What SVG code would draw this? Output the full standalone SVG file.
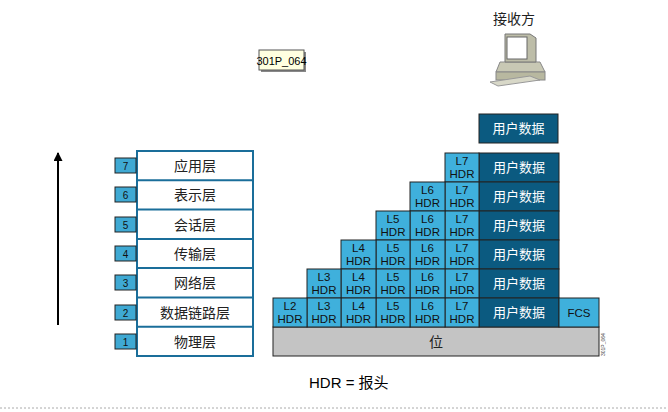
<svg xmlns="http://www.w3.org/2000/svg" width="668" height="412" viewBox="0 0 668 412">
<style>
text{font-family:"Liberation Sans","Noto Sans CJK SC",sans-serif;}
.l{fill:#fff;stroke:#1a6e9a;stroke-width:2}
.n{fill:#3fa9d3;stroke:#222;stroke-width:1}
.h{fill:#3fb0dc;stroke:#222;stroke-width:1}
.u{fill:#0b5a80;stroke:#222;stroke-width:1}
.lt{font-size:14px;fill:#222;text-anchor:middle}
.nt{font-size:10px;fill:#111;text-anchor:middle}
.ht{font-size:11.5px;fill:#111;text-anchor:middle}
.ut{font-size:13px;fill:#fff;text-anchor:middle}
</style>
<defs><marker id="ar" viewBox="0 0 10 10" refX="9" refY="5" markerWidth="10" markerHeight="9" orient="auto" markerUnits="userSpaceOnUse"><path d="M0,0 L10,5 L0,10 Z" fill="#000"/></marker></defs>
<g id="connectors"><line x1="58" y1="325" x2="58" y2="153" stroke="#000" stroke-width="2" marker-end="url(#ar)"/></g>
<line x1="0" y1="408" x2="668" y2="408" stroke="#aaa" stroke-dasharray="2,2"/>
<g id="tag"><rect x="261" y="52" width="45" height="20" fill="#888"/><rect x="259" y="50" width="45" height="20" fill="#ffffe0" stroke="#555"/><text x="281.5" y="64.5" font-size="11" text-anchor="middle" fill="#000">301P_064</text></g>
<g id="receiver"><text x="514" y="24" class="lt" font-size="14">接收方</text>
<path d="M500,62 L540,62 L545,72 L496,72 Z" fill="#c8c8b4" stroke="#888"/>
<rect x="496" y="72" width="49" height="8" fill="#b8b8a0" stroke="#888"/>
<path d="M505,34 L530,34 L536,38 L536,62 L505,62 Z" fill="#bdbda8" stroke="#777"/>
<rect x="507" y="37" width="20" height="22" fill="#fff" stroke="#666"/>
<path d="M490,82 L530,76 L540,80 L498,86 Z" fill="#d8d8c8" stroke="#999"/></g>
<g id="layers">
<rect class="l" x="137" y="151" width="116" height="205"/>
<g stroke="#1a6e9a" stroke-width="2"><line x1="137" y1="180.3" x2="253" y2="180.3"/><line x1="137" y1="209.6" x2="253" y2="209.6"/><line x1="137" y1="238.9" x2="253" y2="238.9"/><line x1="137" y1="268.1" x2="253" y2="268.1"/><line x1="137" y1="297.4" x2="253" y2="297.4"/><line x1="137" y1="326.7" x2="253" y2="326.7"/></g>
<text class="lt" x="195" y="171">应用层</text><text class="lt" x="195" y="200">表示层</text><text class="lt" x="195" y="230">会话层</text><text class="lt" x="195" y="259">传输层</text><text class="lt" x="195" y="288">网络层</text><text class="lt" x="195" y="318">数据链路层</text><text class="lt" x="195" y="347">物理层</text>
<rect class="n" x="115" y="158" width="21" height="15"/><text class="nt" x="125.5" y="169.5">7</text>
<rect class="n" x="115" y="187" width="21" height="15"/><text class="nt" x="125.5" y="198.5">6</text>
<rect class="n" x="115" y="217" width="21" height="15"/><text class="nt" x="125.5" y="228.5">5</text>
<rect class="n" x="115" y="246" width="21" height="15"/><text class="nt" x="125.5" y="257.5">4</text>
<rect class="n" x="115" y="275" width="21" height="15"/><text class="nt" x="125.5" y="286.5">3</text>
<rect class="n" x="115" y="305" width="21" height="15"/><text class="nt" x="125.5" y="316.5">2</text>
<rect class="n" x="115" y="334" width="21" height="15"/><text class="nt" x="125.5" y="345.5">1</text>
</g>
<g id="bits"><rect x="273" y="327" width="326" height="29" fill="#c4c4c4" stroke="#222"/><text class="lt" x="436" y="347">位</text></g>
<g id="userdata-top"><rect class="u" x="479" y="114" width="79" height="29"/><text class="ut" x="518.5" y="133">用户数据</text></g>
<g id="stack">
<rect class="u" x="479" y="153" width="80" height="29"/><text class="ut" x="519" y="172">用户数据</text>
<rect class="u" x="479" y="182" width="80" height="29"/><text class="ut" x="519" y="201">用户数据</text>
<rect class="u" x="479" y="211" width="80" height="29"/><text class="ut" x="519" y="230">用户数据</text>
<rect class="u" x="479" y="240" width="80" height="29"/><text class="ut" x="519" y="259">用户数据</text>
<rect class="u" x="479" y="269" width="80" height="29"/><text class="ut" x="519" y="288">用户数据</text>
<rect class="u" x="479" y="298" width="80" height="29"/><text class="ut" x="519" y="317">用户数据</text>
<rect class="h" x="559" y="298" width="40" height="29"/><text class="ht" x="579" y="317">FCS</text>
<g id="hdr">
<rect class="h" x="445" y="153" width="34" height="29"/><text class="ht" x="462" y="165">L7</text><text class="ht" x="462" y="178">HDR</text>
<rect class="h" x="445" y="182" width="34" height="29"/><text class="ht" x="462" y="194">L7</text><text class="ht" x="462" y="207">HDR</text>
<rect class="h" x="445" y="211" width="34" height="29"/><text class="ht" x="462" y="223">L7</text><text class="ht" x="462" y="236">HDR</text>
<rect class="h" x="445" y="240" width="34" height="29"/><text class="ht" x="462" y="252">L7</text><text class="ht" x="462" y="265">HDR</text>
<rect class="h" x="445" y="269" width="34" height="29"/><text class="ht" x="462" y="281">L7</text><text class="ht" x="462" y="294">HDR</text>
<rect class="h" x="445" y="298" width="34" height="29"/><text class="ht" x="462" y="310">L7</text><text class="ht" x="462" y="323">HDR</text>
<rect class="h" x="410" y="182" width="35" height="29"/><text class="ht" x="427.5" y="194">L6</text><text class="ht" x="427.5" y="207">HDR</text>
<rect class="h" x="410" y="211" width="35" height="29"/><text class="ht" x="427.5" y="223">L6</text><text class="ht" x="427.5" y="236">HDR</text>
<rect class="h" x="410" y="240" width="35" height="29"/><text class="ht" x="427.5" y="252">L6</text><text class="ht" x="427.5" y="265">HDR</text>
<rect class="h" x="410" y="269" width="35" height="29"/><text class="ht" x="427.5" y="281">L6</text><text class="ht" x="427.5" y="294">HDR</text>
<rect class="h" x="410" y="298" width="35" height="29"/><text class="ht" x="427.5" y="310">L6</text><text class="ht" x="427.5" y="323">HDR</text>
<rect class="h" x="376" y="211" width="34" height="29"/><text class="ht" x="393" y="223">L5</text><text class="ht" x="393" y="236">HDR</text>
<rect class="h" x="376" y="240" width="34" height="29"/><text class="ht" x="393" y="252">L5</text><text class="ht" x="393" y="265">HDR</text>
<rect class="h" x="376" y="269" width="34" height="29"/><text class="ht" x="393" y="281">L5</text><text class="ht" x="393" y="294">HDR</text>
<rect class="h" x="376" y="298" width="34" height="29"/><text class="ht" x="393" y="310">L5</text><text class="ht" x="393" y="323">HDR</text>
<rect class="h" x="341" y="240" width="35" height="29"/><text class="ht" x="358.5" y="252">L4</text><text class="ht" x="358.5" y="265">HDR</text>
<rect class="h" x="341" y="269" width="35" height="29"/><text class="ht" x="358.5" y="281">L4</text><text class="ht" x="358.5" y="294">HDR</text>
<rect class="h" x="341" y="298" width="35" height="29"/><text class="ht" x="358.5" y="310">L4</text><text class="ht" x="358.5" y="323">HDR</text>
<rect class="h" x="307" y="269" width="34" height="29"/><text class="ht" x="324" y="281">L3</text><text class="ht" x="324" y="294">HDR</text>
<rect class="h" x="307" y="298" width="34" height="29"/><text class="ht" x="324" y="310">L3</text><text class="ht" x="324" y="323">HDR</text>
<rect class="h" x="273" y="298" width="34" height="29"/><text class="ht" x="290" y="310">L2</text><text class="ht" x="290" y="323">HDR</text>
</g></g>
<text x="605" y="356" font-size="5" fill="#444" transform="rotate(-90 605 356)">301P_064</text>
<text x="309" y="388" font-size="15" fill="#000">HDR = 报头</text>
</svg>
